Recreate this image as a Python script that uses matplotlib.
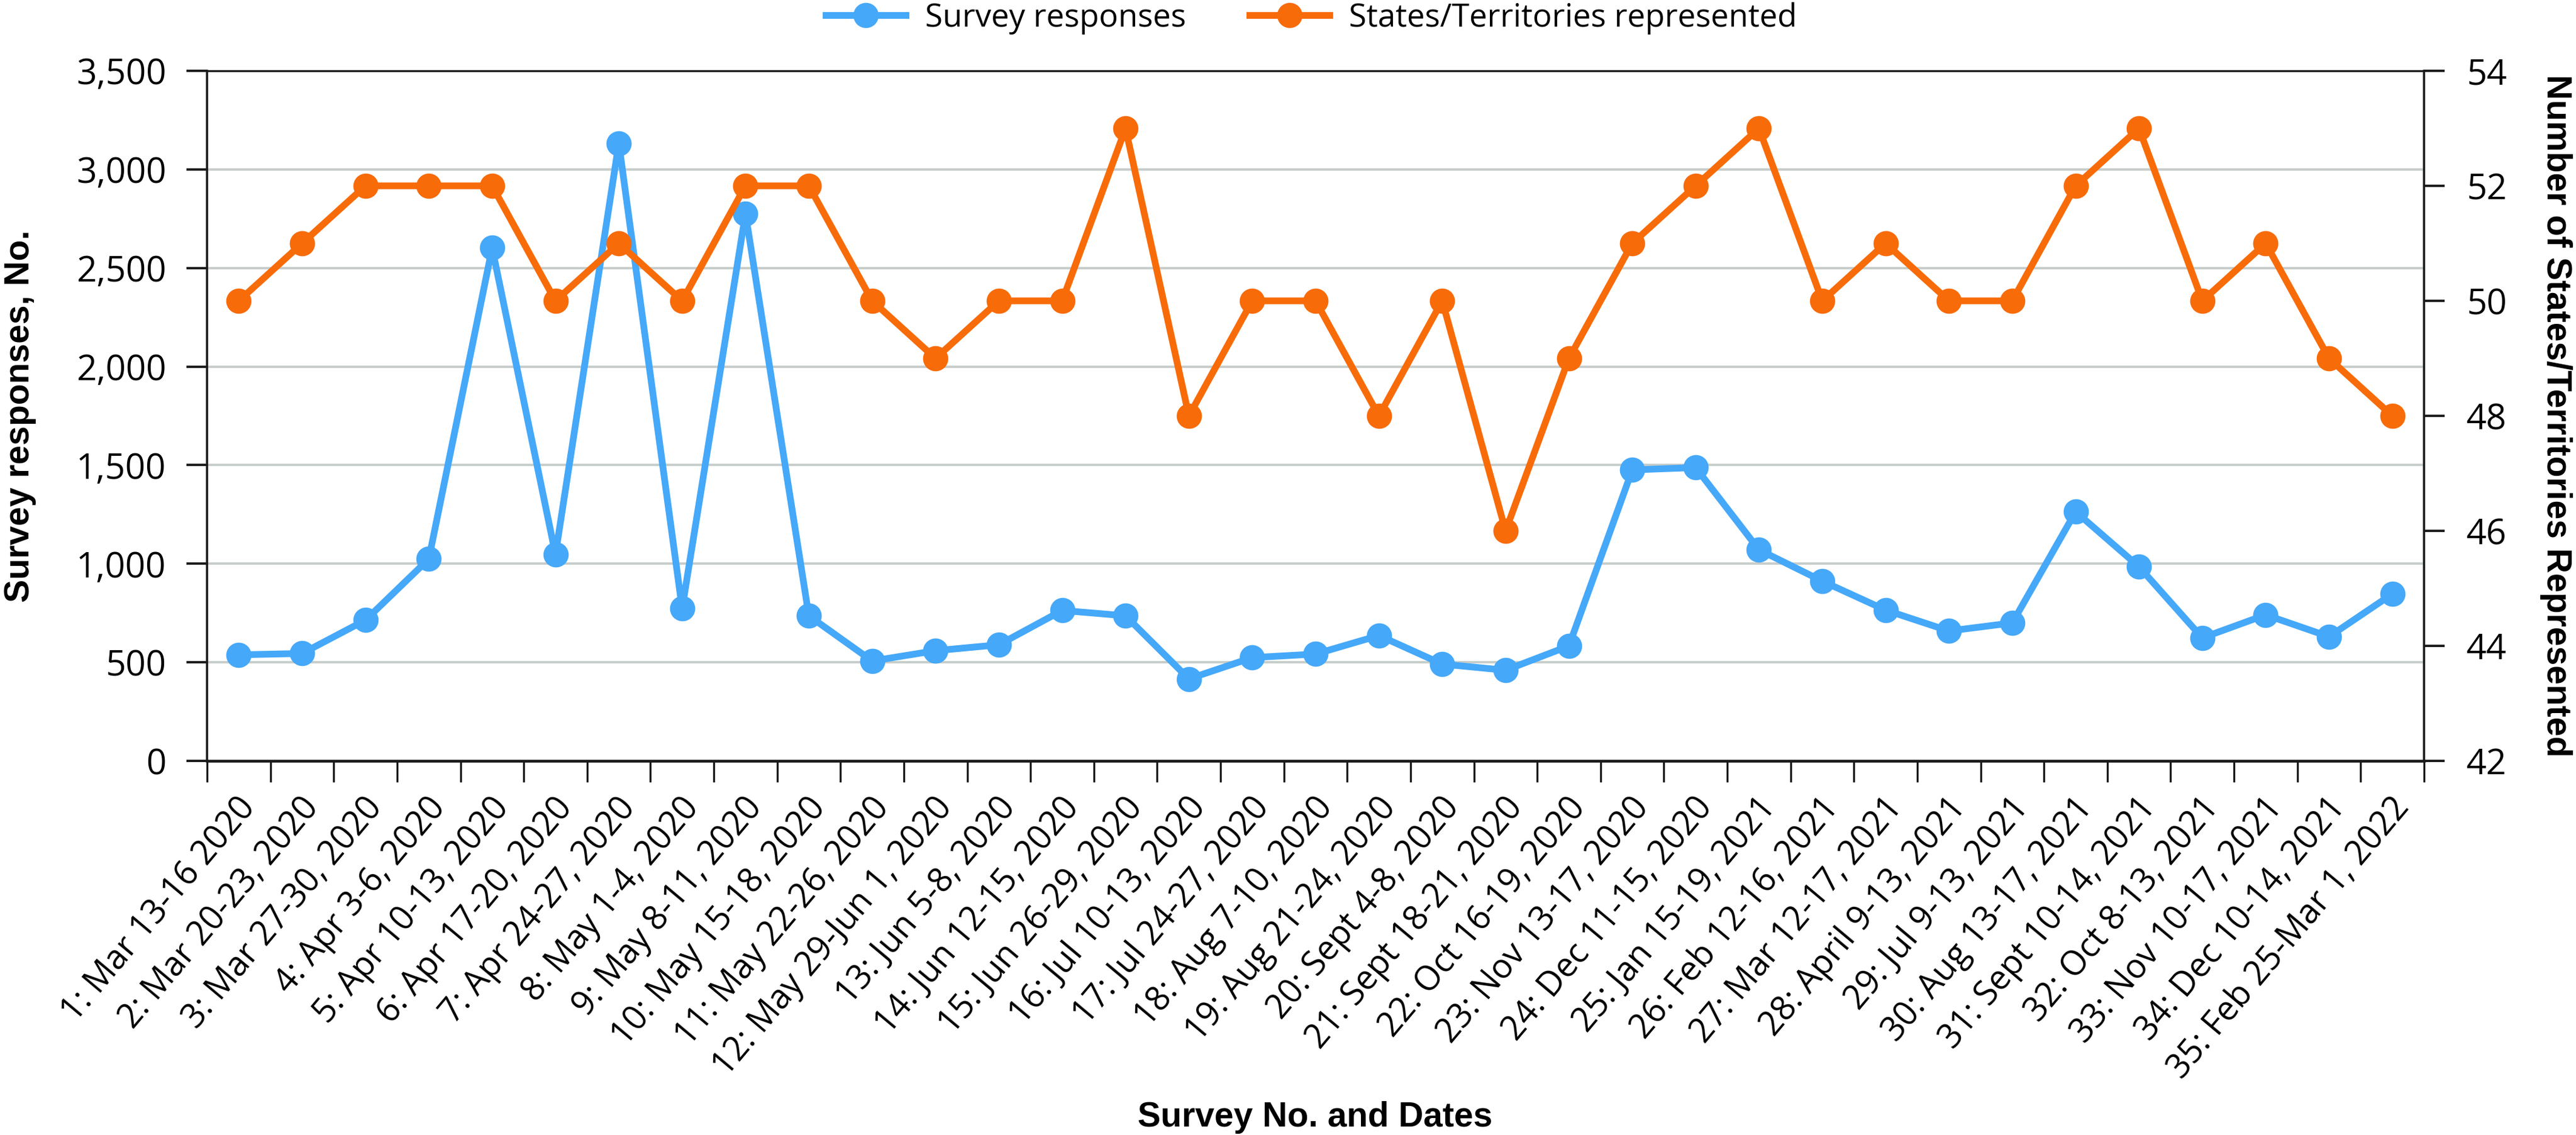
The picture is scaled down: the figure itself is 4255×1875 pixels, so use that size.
import matplotlib
matplotlib.use('Agg')
import matplotlib.pyplot as plt
import matplotlib.transforms as mtransforms
import numpy as np

# survey number and dates (x categories)
labels = ['1: Mar 13-16 2020', '2: Mar 20-23, 2020', '3: Mar 27-30, 2020', '4: Apr 3-6, 2020',
          '5: Apr 10-13, 2020', '6: Apr 17-20, 2020', '7: Apr 24-27, 2020', '8: May 1-4, 2020',
          '9: May 8-11, 2020', '10: May 15-18, 2020', '11: May 22-26, 2020', '12: May 29-Jun 1, 2020',
          '13: Jun 5-8, 2020', '14: Jun 12-15, 2020', '15: Jun 26-29, 2020', '16: Jul 10-13, 2020',
          '17: Jul 24-27, 2020', '18: Aug 7-10, 2020', '19: Aug 21-24, 2020', '20: Sept 4-8, 2020',
          '21: Sept 18-21, 2020', '22: Oct 16-19, 2020', '23: Nov 13-17, 2020', '24: Dec 11-15, 2020',
          '25: Jan 15-19, 2021', '26: Feb 12-16, 2021', '27: Mar 12-17, 2021', '28: April 9-13, 2021',
          '29: Jul 9-13, 2021', '30: Aug 13-17, 2021', '31: Sept 10-14, 2021', '32: Oct 8-13, 2021',
          '33: Nov 10-17, 2021', '34: Dec 10-14, 2021', '35: Feb 25-Mar 1, 2022']

# survey responses (left axis)
responses = [538, 545, 714, 1024, 2602, 1047, 3133, 773, 2776, 736,
             507, 559, 589, 763, 736, 416, 524, 542, 636, 491,
             460, 583, 1476, 1488, 1071, 912, 765, 659, 700, 1264,
             985, 624, 741, 630, 847]

# states/territories represented (right axis)
states = [50, 51, 52, 52, 52, 50, 51, 50, 52, 52,
          50, 49, 50, 50, 53, 48, 50, 50, 48, 50,
          46, 49, 51, 52, 53, 50, 51, 50, 50, 52,
          53, 50, 51, 49, 48]

left_ticks = [0, 500, 1000, 1500, 2000, 2500, 3000, 3500]
right_ticks = [42, 44, 46, 48, 50, 52, 54]

bleu = '#45A8F9'
orange = '#F86B09'
noir = '#1a1a1a'

plt.rcParams['font.family'] = ['Open Sans', 'DejaVu Sans']

fig = plt.figure(figsize=(42.55, 18.75), dpi=100)
ax = fig.add_axes([0.0804, 0.3296, 0.8606, 0.608])
ax2 = ax.twinx()

x = np.arange(len(labels))
l1, = ax.plot(x, responses, color=bleu, lw=8, marker='o', ms=29,
              label='Survey responses', zorder=3)
l2, = ax2.plot(x, states, color=orange, lw=8, marker='o', ms=29,
               label='States/Territories represented', zorder=3)

ax.set_xlim(-0.5, len(labels) - 0.5)
ax.set_ylim(0, 3500)
ax.set_yticks(left_ticks)
ax.set_yticklabels(['{:,}'.format(v) for v in left_ticks])
ax2.set_ylim(42, 54)
ax2.set_yticks(right_ticks)

# labels at the centres, tick marks at the category edges
ax.set_xticks(x)
ax.set_xticklabels(labels, rotation=50, ha='right', va='center', rotation_mode='anchor')
ax.set_xticks(np.arange(-0.5, len(labels)), minor=True)
ax.tick_params(axis='x', which='major', length=0, pad=49, labelsize=40)
ax.tick_params(axis='x', which='minor', length=25, width=2.4, color=noir)
ax.tick_params(axis='y', length=24.5, width=2.8, pad=24, labelsize=42, color=noir)
ax2.tick_params(axis='y', length=24.5, width=2.8, pad=26, labelsize=42, color=noir)

decal = mtransforms.ScaledTranslation(0.18, 0, fig.dpi_scale_trans)
for lab in ax.get_xticklabels():
    lab.set_transform(lab.get_transform() + decal)

ax.grid(axis='y', color='#c6cdca', lw=2.8)
ax.set_axisbelow(True)

ax.spines['right'].set_visible(False)
for s in ['left', 'top', 'bottom']:
    ax2.spines[s].set_visible(False)
ax.spines['top'].set_linewidth(2.4)
ax.spines['bottom'].set_linewidth(3.3)
ax.spines['left'].set_linewidth(2.6)
ax2.spines['right'].set_linewidth(2.6)
for s in ax.spines.values():
    s.set_color(noir)
ax2.spines['right'].set_color(noir)

# titres des axes
fig.text(33 / 4255, 1 - 687 / 1875, 'Survey responses, No.', rotation=90,
         ha='center', va='center', fontsize=41, fontweight='bold', family='Liberation Sans')
fig.text(4222 / 4255, 1 - 687 / 1875, 'Number of States/Territories Represented', rotation=270,
         ha='center', va='center', fontsize=41, fontweight='bold', family='Liberation Sans')
fig.text(2172 / 4255, 1 - 1861 / 1875, 'Survey No. and Dates', ha='center', va='baseline',
         fontsize=41, fontweight='bold', family='Liberation Sans')

fig.legend(handles=[l1, l2], loc='center', bbox_to_anchor=(2166 / 4255, 1 - 30 / 1875), ncol=2,
           frameon=False, fontsize=38, handlelength=2.5, handletextpad=0.6, columnspacing=2.0)

fig.savefig('out.png', dpi=100)
